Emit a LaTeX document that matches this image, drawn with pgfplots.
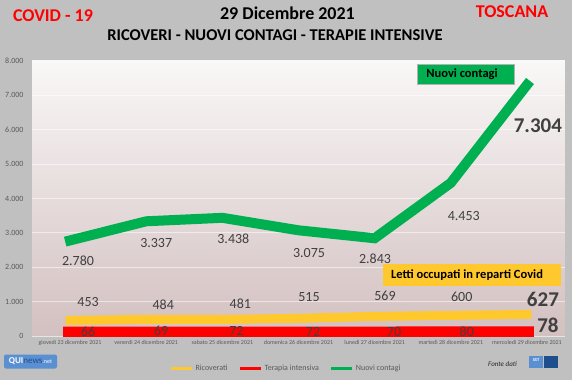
\documentclass[border=0pt]{standalone}
\usepackage{pgfplots}
\pgfplotsset{compat=1.18}
\usepackage{pgfplotstable}
\usepackage{fontspec}
\setmainfont{Carlito}
\definecolor{bg}{HTML}{C0C0C0}
\definecolor{ygold}{HTML}{FFC82C}
\definecolor{rred}{HTML}{FF0000}
\definecolor{ggreen}{HTML}{00B050}
\definecolor{lbl}{HTML}{404040}
\definecolor{tickc}{HTML}{595959}
\definecolor{plottop}{HTML}{F9F7F7}
\definecolor{plotbot}{HTML}{D3C0C0}
\definecolor{logoblue}{HTML}{5A8FD2}
\definecolor{logodark}{HTML}{1F4E8C}

\pgfplotstableread{
x y
0 2780
1 3337
2 3438
3 3075
4 2843
5 4453
6 7304
}\contagi
\pgfplotstableread{
x y
0 453
1 484
2 481
3 515
4 569
5 600
6 627
}\ricoverati
\pgfplotstableread{
x y
0 66
1 69
2 72
3 72
4 70
5 80
6 78
}\terapia

\pgfplotstableread{
x y lab dx dy
0 2780 2.780 8 -20.6
1 3337 3.337 10 -21.7
2 3438 3.438 11 -21
3 3075 3.075 10.5 -22.7
4 2843 2.843 0.4 -20.7
5 4453 4.453 13 -33
}\contagilab
\pgfplotstableread{
x y lab dx dy
6 7304 7.304 11 -41
}\contagilast
\pgfplotstableread{
x y lab dx dy
0 453 453 18 18.4
1 484 484 17 14.4
2 481 481 18 15.5
3 515 515 10.5 21.3
4 569 569 10.4 20.4
5 600 600 11 18.4
}\ricolab
\pgfplotstableread{
x y lab dx dy
6 627 627 16 15.4
}\ricolast
\pgfplotstableread{
x y lab dx dy
0 66 66 18 1.7
1 69 69 15 2.6
2 72 72 14 2.5
3 72 72 14.5 1.5
4 70 70 19.4 1.6
5 80 80 16 1.25
}\terlab
\pgfplotstableread{
x y lab dx dy
6 78 78 21 8.3
}\terlast

\pgfplotsset{
  lblplot/.style={
    forget plot, only marks, mark=*, mark size=0pt,
    mark options={draw=none, fill=none},
    nodes near coords, point meta=explicit symbolic,
    visualization depends on={\thisrow{dx}\as\dx},
    visualization depends on={\thisrow{dy}\as\dy},
    nodes near coords style={anchor=center, inner sep=0pt,
      xshift=\dx pt, yshift=\dy pt, text=lbl, #1},
  },
  lblplot/.default={font=\fontsize{14}{16}\selectfont},
}

\begin{document}
\begin{tikzpicture}[x=1pt,y=1pt]
\path[use as bounding box] (0,0) rectangle (572,380);
\fill[bg] (0,0) rectangle (572,380);
\begin{axis}[
  at={(32pt,44pt)}, anchor=south west,
  scale only axis, width=533pt, height=275pt,
  xmin=-0.5, xmax=6.5, ymin=0, ymax=8000,
  xtick={0,...,6},
  xticklabels={giovedì 23 dicembre 2021, venerdì 24 dicembre 2021, sabato 25 dicembre 2021, domenica 26 dicembre 2021, lunedì 27 dicembre 2021, martedì 28 dicembre 2021, mercoledì 29 dicembre 2021},
  ytick={0,1000,...,8000},
  scaled y ticks=false,
  /pgf/number format/1000 sep={.},
  /pgf/number format/assume math mode=true,
  axis line style={draw=none},
  major tick length=0pt,
  ymajorgrids,
  grid style={white, opacity=0.55, line width=0.8pt},
  axis background/.style={top color=plottop, bottom color=plotbot},
  xticklabel style={font=\fontsize{6}{7}\selectfont, text=tickc, yshift=-1pt},
  yticklabel style={font=\fontsize{8}{9}\selectfont, text=tickc, xshift=-5pt},
  legend columns=3,
  legend style={at={(0.4765,-0.1164)}, anchor=center, draw=none, fill=none,
    font=\fontsize{8}{9}\selectfont, text=tickc,
    /tikz/every even column/.append style={column sep=9pt},
    inner sep=0pt},
  legend image code/.code={\draw[#1, line width=3pt, line cap=butt] (0pt,0pt) -- (21pt,0pt);},
]
\addplot[ygold, line width=9pt, line cap=rect, mark=none] table[x=x,y=y] {\ricoverati};
\addlegendentry{Ricoverati}
\addplot[rred, line width=14pt, line cap=rect, mark=none] table[x=x,y=y] {\terapia};
\addlegendentry{Terapia intensiva}
\addplot[ggreen, line width=10pt, line cap=rect, line join=miter, mark=none] table[x=x,y=y] {\contagi};
\addlegendentry{Nuovi contagi}

\addplot[lblplot] table[x=x,y=y,meta=lab] {\contagilab};
\addplot[lblplot={font=\fontsize{21}{24}\bfseries\selectfont}] table[x=x,y=y,meta=lab] {\contagilast};
\addplot[lblplot] table[x=x,y=y,meta=lab] {\ricolab};
\addplot[lblplot={font=\fontsize{21}{24}\bfseries\selectfont}] table[x=x,y=y,meta=lab] {\ricolast};
\addplot[lblplot] table[x=x,y=y,meta=lab] {\terlab};
\addplot[lblplot={font=\fontsize{21}{24}\bfseries\selectfont}] table[x=x,y=y,meta=lab] {\terlast};
\end{axis}

% titles
\node[font=\fontsize{18}{20}\bfseries\selectfont, text=rred, anchor=center] at (53,364) {COVID - 19};
\node[font=\fontsize{18}{20}\bfseries\selectfont, text=rred, anchor=center] at (512,368) {TOSCANA};
\node[font=\fontsize{18}{20}\bfseries\selectfont, anchor=center] at (287.5,366.5) {29 Dicembre 2021};
\node[font=\fontsize{16.5}{18}\bfseries\selectfont, anchor=center] at (275,345) {RICOVERI - NUOVI CONTAGI - TERAPIE INTENSIVE};

% annotation boxes
\fill[ggreen] (417,296) rectangle (514,316);
\draw[gray!60, line width=0.5pt] (417,296) rectangle (514,316);
\node[font=\fontsize{12.5}{14}\bfseries\selectfont, anchor=center] at (462,306) {Nuovi contagi};
\fill[ygold] (383,94) rectangle (561,116);
\node[font=\fontsize{12.5}{14}\bfseries\selectfont, anchor=center] at (467,105) {Letti occupati in reparti Covid};

% logos / source
\node[fill=logoblue, rounded corners=2pt, minimum width=53pt, minimum height=14pt, inner sep=0pt,
  font=\fontsize{9}{10}\selectfont, anchor=center] at (30.5,18.5)
  {\textcolor{white}{\bfseries QUI}\textcolor{logodark}{news}\textcolor{white}{\fontsize{6}{7}\selectfont .net}};
\node[font=\fontsize{7}{8}\itshape\selectfont, text=black!85, anchor=center] at (502.5,16) {Fonte dati};
\fill[logoblue] (529,12) rectangle (543,24);
\fill[logodark] (544,12) rectangle (558,24);
\node[font=\fontsize{4.5}{5}\bfseries\selectfont, text=white, anchor=center] at (536,20) {SST};
\end{tikzpicture}
\end{document}
